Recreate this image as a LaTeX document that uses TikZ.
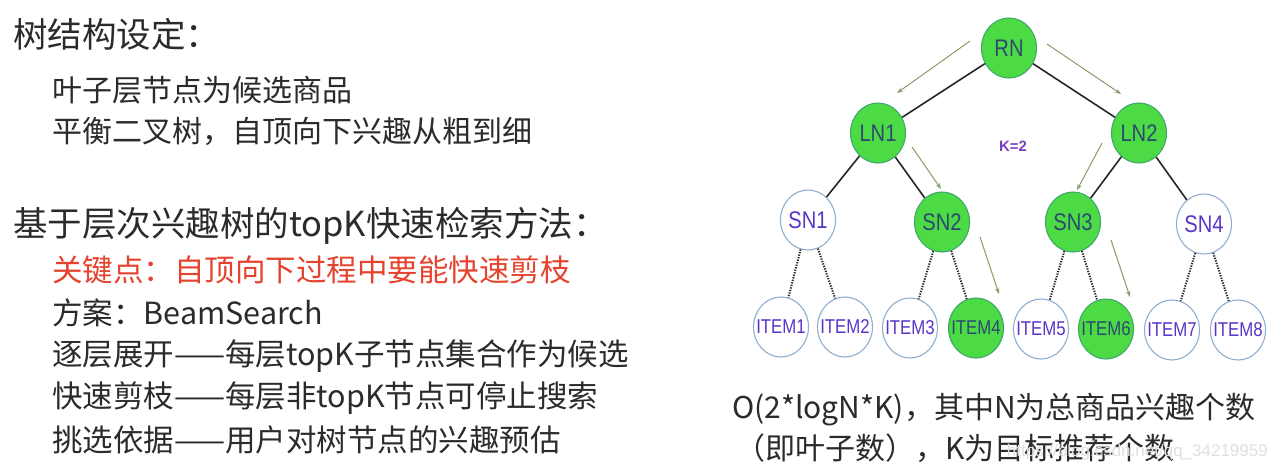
\documentclass[tikz,border=0pt]{standalone}
\usepackage{fontspec}
\setmainfont{Noto Sans CJK SC}
\newfontfamily\nodefont[FakeStretch=0.84]{Liberation Sans}
\newfontfamily\labfont{Liberation Sans}
\usetikzlibrary{shapes.geometric,arrows.meta}
\definecolor{txt}{HTML}{2B2B2B}
\definecolor{redtxt}{HTML}{E5432D}
\definecolor{leafg}{HTML}{4DDB45}
\definecolor{leafgb}{HTML}{3FA86A}
\definecolor{wborder}{HTML}{8FAFD0}
\definecolor{purp}{HTML}{5A35C8}
\definecolor{kcol}{HTML}{7B3FC0}
\definecolor{darkb}{HTML}{2C4A70}
\definecolor{arr}{HTML}{8A9C6C}
\tikzset{
  tnode/.style={ellipse, inner sep=0pt, minimum width=55pt, minimum height=60pt, line width=1.1pt},
  biglab/.style={inner sep=0pt, font=\nodefont\fontsize{24}{24}\selectfont},
  smalllab/.style={inner sep=0pt, font=\nodefont\fontsize{20}{20}\selectfont},
  gnode/.style={tnode, fill=leafg, draw=leafgb, label={[biglab, text=darkb]center:#1}},
  wnode/.style={tnode, fill=white, draw=wborder, label={[biglab, text=purp]center:#1}},
  gitem/.style={tnode, fill=leafg, draw=leafgb, label={[smalllab, text=darkb]center:#1}},
  witem/.style={tnode, fill=white, draw=wborder, label={[smalllab, text=purp]center:#1}},
  solidedge/.style={draw=black!85, line width=1.6pt},
  dotedge/.style={draw=black!85, line width=2pt, dash pattern=on 1.3pt off 1.3pt},
  flow/.style={draw=arr, line width=1pt, -{Stealth[length=6pt,width=4.5pt]}},
  head/.style={anchor=west, inner sep=0pt, text=txt, font=\fontsize{34.5}{38}\selectfont},
  sub/.style={anchor=west, inner sep=0pt, text=txt, font=\fontsize{30}{36}\selectfont},
  subb/.style={anchor=west, inner sep=0pt, text=txt, font=\fontsize{30.5}{36}\selectfont},
  btxt/.style={anchor=west, inner sep=0pt, text=txt, font=\fontsize{30}{34}\selectfont},
}
\begin{document}
\begin{tikzpicture}[x=1pt,y=-1pt]
\useasboundingbox[fill=white] (0,0) rectangle (1274,474);
% left text
\node[head] (h1) at (13,34) {树结构设定：};
\node[sub] (s1) at (52,90) {叶子层节点为候选商品};
\node[sub] (s2) at (52,131) {平衡二叉树，自顶向下兴趣从粗到细};
\node[head] (h2) at (13,226) {基于层次兴趣树的topK快速检索方法：};
\node[subb, text=redtxt] (s3) at (52,270) {关键点：自顶向下过程中要能快速剪枝};
\node[subb] (s4) at (52,313) {方案：BeamSearch};
\node[subb] (s5) at (52,356) {逐层展开——每层topK子节点集合作为候选};
\node[subb] (s6) at (52,398) {快速剪枝——每层非topK节点可停止搜索};
\node[subb] (s7) at (52,440) {挑选依据——用户对树节点的兴趣预估};
% tree
\node[gnode=RN] (RN) at (1009,48) {};
\node[gnode=LN1] (LN1) at (878,133) {};
\node[gnode=LN2] (LN2) at (1139,133) {};
\node[wnode=SN1] (SN1) at (808,220) {};
\node[gnode=SN2] (SN2) at (942,222) {};
\node[gnode=SN3] (SN3) at (1073,222) {};
\node[wnode=SN4] (SN4) at (1204,224) {};
\node[witem=ITEM1] (I1) at (781,327) {};
\node[witem=ITEM2] (I2) at (845,327) {};
\node[witem=ITEM3] (I3) at (910,328) {};
\node[gitem=ITEM4] (I4) at (976,328) {};
\node[witem=ITEM5] (I5) at (1041,329) {};
\node[gitem=ITEM6] (I6) at (1106,329) {};
\node[witem=ITEM7] (I7) at (1172,330) {};
\node[witem=ITEM8] (I8) at (1238,330) {};
\node[text=kcol, font=\labfont\bfseries\fontsize{15}{15}\selectfont] (K) at (1013,146) {K=2};
% solid edges
\draw[solidedge] (RN) -- (LN1);
\draw[solidedge] (RN) -- (LN2);
\draw[solidedge] (LN1) -- (SN1);
\draw[solidedge] (LN1) -- (SN2);
\draw[solidedge] (LN2) -- (SN3);
\draw[solidedge] (LN2) -- (SN4);
% dotted edges
\draw[dotedge] (SN1) -- (I1);
\draw[dotedge] (SN1) -- (I2);
\draw[dotedge] (SN2) -- (I3);
\draw[dotedge] (SN2) -- (I4);
\draw[dotedge] (SN3) -- (I5);
\draw[dotedge] (SN3) -- (I6);
\draw[dotedge] (SN4) -- (I7);
\draw[dotedge] (SN4) -- (I8);
% flow arrows
\coordinate (a1s) at (970,41); \coordinate (a1e) at (897,93);
\coordinate (a2s) at (1047,44); \coordinate (a2e) at (1121,94);
\coordinate (a3s) at (912,147); \coordinate (a3e) at (941,189);
\coordinate (a4s) at (1102,143); \coordinate (a4e) at (1077,190);
\coordinate (a5s) at (980,237); \coordinate (a5e) at (999,294);
\coordinate (a6s) at (1111,240); \coordinate (a6e) at (1130,297);
\draw[flow] (a1s) -- (a1e);
\draw[flow] (a2s) -- (a2e);
\draw[flow] (a3s) -- (a3e);
\draw[flow] (a4s) -- (a4e);
\draw[flow] (a5s) -- (a5e);
\draw[flow] (a6s) -- (a6e);
% bottom text
\node[btxt] (b1) at (732,410) {O(2*logN*K)，其中N为总商品兴趣个数};
\node[btxt] (b2) at (735,448) {（即叶子数），K为目标推荐个数};
\node[anchor=east, inner sep=0pt, text=black!12, font=\labfont\fontsize{17}{17}\selectfont] (wm) at (1268,452) {https://blog.csdn.net/qq\_34219959};
\end{tikzpicture}
\end{document}
